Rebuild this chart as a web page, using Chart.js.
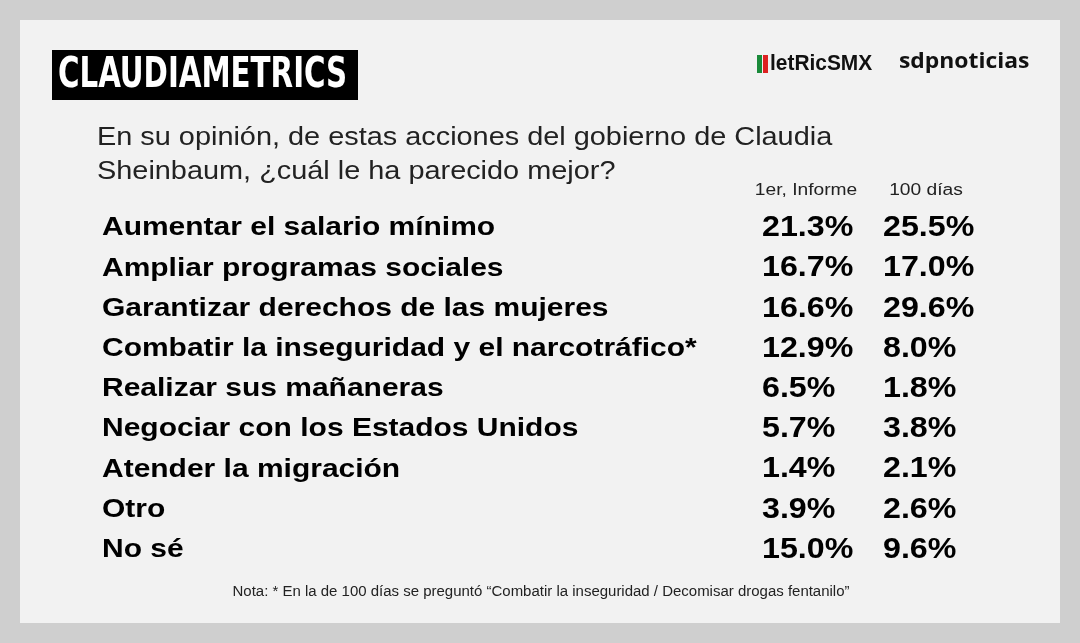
<!DOCTYPE html>
<html><head><meta charset="utf-8">
<script src="https://cdn.jsdelivr.net/npm/chart.js@4/dist/chart.umd.min.js"></script>
<style>html,body{margin:0;padding:0;background:#cfcfcf;}#wrap{width:1080px;height:643px;position:relative;}</style>
</head><body><div id="wrap"><canvas id="c" width="1080" height="643"></canvas></div>
<script>
const categories = ["Aumentar el salario mínimo","Ampliar programas sociales","Garantizar derechos de las mujeres","Combatir la inseguridad y el narcotráfico*","Realizar sus mañaneras","Negociar con los Estados Unidos","Atender la migración","Otro","No sé"];
const informe = [21.3,16.7,16.6,12.9,6.5,5.7,1.4,3.9,15.0];
const cienDias = [25.5,17.0,29.6,8.0,1.8,3.8,2.1,2.6,9.6];
const seriesLabels = ["1er, Informe","100 días"];
const title = "CLAUDIAMETRICS";
const question = ["En su opinión, de estas acciones del gobierno de Claudia","Sheinbaum, ¿cuál le ha parecido mejor?"];
const note = "Nota: * En la de 100 días se preguntó “Combatir la inseguridad / Decomisar drogas fentanilo”";
const F = "'Liberation Sans', Arial, sans-serif";

function st(c,t,x,y,sx,align){
  c.save(); c.translate(x,y); c.scale(sx,1); c.textAlign=align||'left'; c.fillText(t,0,0); c.restore();
}
const deco = {
  id:'deco',
  beforeDraw(ch){
    const c = ch.ctx; c.save();
    c.fillStyle='#cfcfcf'; c.fillRect(0,0,1080,643);
    c.fillStyle='#f2f2f2'; c.fillRect(20,20,1040,603);
    c.fillStyle='#000'; c.fillRect(52,50,306,50);
    c.fillStyle='#fff'; c.font="bold 42px 'DejaVu Sans Condensed', "+F; c.textBaseline='middle';
    st(c,title,58,76,0.775);
    c.fillStyle='#1a8a3a'; c.fillRect(757,55,5,18);
    c.fillStyle='#d22'; c.fillRect(763,55,5,18);
    c.fillStyle='#111'; c.font="bold 22px "+F;
    st(c,"letRicSMX",770,64,0.95);
    c.font="bold 22px 'Open Sans', "+F; st(c,"sdpnoticias",899,62,1.04);
    c.fillStyle='#222'; c.font="25px "+F;
    st(c,question[0],97,138,1.155); st(c,question[1],97,172,1.155);
    c.font="16px "+F;
    st(c,seriesLabels[0],806,191,1.2,'center'); st(c,seriesLabels[1],926,191,1.2,'center');
    c.font="14px "+F; st(c,note,541,592,1.07,'center');
    c.restore();
  },
  afterDraw(ch){
    const c = ch.ctx, y = ch.scales.y; c.save();
    c.fillStyle='#000'; c.textBaseline='middle';
    categories.forEach((cat,i)=>{
      const py = y.getPixelForValue(i)+1;
      c.font="bold 26px "+F; st(c,cat,102,py,1.153);
      c.font="bold 29px "+F;
      st(c,informe[i].toFixed(1)+'%',762,py,1.11);
      st(c,cienDias[i].toFixed(1)+'%',883,py,1.11);
    });
    c.restore();
  }
};

new Chart(document.getElementById('c'),{
  type:'bar',
  data:{labels:categories,datasets:[
    {label:seriesLabels[0],data:informe,backgroundColor:'rgba(0,0,0,0)'},
    {label:seriesLabels[1],data:cienDias,backgroundColor:'rgba(0,0,0,0)'}]},
  options:{indexAxis:'y',responsive:false,animation:false,devicePixelRatio:1,
    layout:{padding:{top:207,bottom:74,left:102,right:100}},
    plugins:{legend:{display:false},tooltip:{enabled:false}},
    scales:{x:{display:false,min:0,max:100},y:{display:false}}},
  plugins:[deco]
});
</script></body></html>
